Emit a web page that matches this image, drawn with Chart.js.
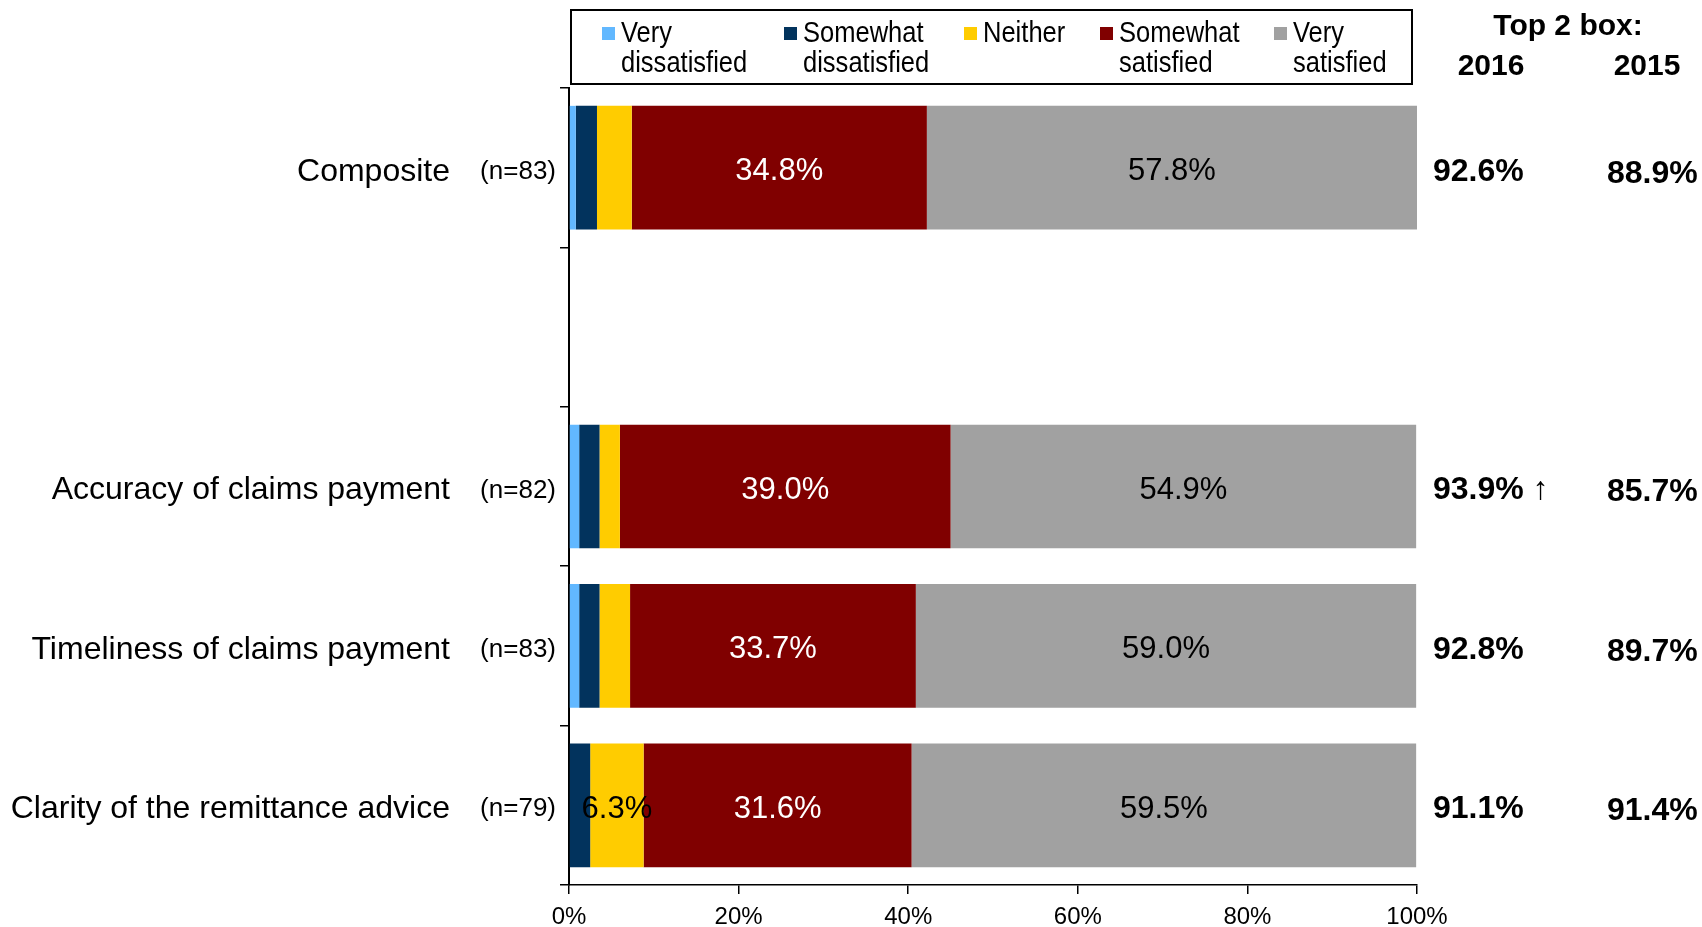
<!DOCTYPE html>
<html>
<head>
<meta charset="utf-8">
<title>Top 2 box satisfaction</title>
<script src="https://cdn.jsdelivr.net/npm/chart.js@4/dist/chart.umd.min.js"></script>
<style>
  html, body { margin: 0; padding: 0; background: #fff; }
  #chart { display: block; }
</style>
</head>
<body>
<canvas id="chart" width="1702" height="927"></canvas>
<script>
/* ---- data ---- */
var CATEGORIES   = ['Composite', '', 'Accuracy of claims payment', 'Timeliness of claims payment', 'Clarity of the remittance advice'];
var SAMPLE_SIZES = ['(n=83)', '', '(n=82)', '(n=83)', '(n=79)'];

var VERY_DISSATISFIED     = [0.8, null, 1.2, 1.2, 0];
var SOMEWHAT_DISSATISFIED = [2.5, null, 2.4, 2.4, 2.5];
var NEITHER               = [4.1, null, 2.4, 3.6, 6.3];
var SOMEWHAT_SATISFIED    = [34.8, null, 39.0, 33.7, 31.6];
var VERY_SATISFIED        = [57.8, null, 54.9, 59.0, 59.5];

var TOP2_2016 = ['92.6%', '', '93.9% \u2191', '92.8%', '91.1%'];
var TOP2_2015 = ['88.9%', '', '85.7%', '89.7%', '91.4%'];

var X_TICKS = [0, 20, 40, 60, 80, 100];

var LEGEND_LINES = [['Very', 'dissatisfied'], ['Somewhat', 'dissatisfied'], ['Neither'], ['Somewhat', 'satisfied'], ['Very', 'satisfied']];

var FONT = '"Liberation Sans", Arial, Helvetica, sans-serif';
var LABEL_MIN = 6;   // segments narrower than this get no value label

// layout constants for the hand-drawn pieces
var LEGEND_BOX   = { x: 571, y: 10, w: 841, h: 74 };
var LEGEND_ITEMS = [602, 784, 964, 1100, 1274];
var COL_2016_X   = 1433;
var COL_2015_X   = 1607;
var N_LABEL_X    = 556;
var TEXT_DY      = 4;   // labels sit a touch below the bar centre

var overlayPlugin = {
    id: 'overlay',
    afterDatasetsDraw: function(chart) {
        var ctx = chart.ctx;
        chart.data.datasets.forEach(function(ds, di) {
            var meta = chart.getDatasetMeta(di);
            meta.data.forEach(function(bar, i) {
                var v = ds.data[i];
                if (v === null || v < LABEL_MIN) return;
                ctx.save();
                ctx.font = '31px ' + FONT;
                ctx.fillStyle = ds.labelColor;
                ctx.textAlign = 'center';
                ctx.textBaseline = 'middle';
                ctx.fillText(v.toFixed(1) + '%', (bar.x + bar.base) / 2, bar.y + TEXT_DY);
                ctx.restore();
            });
        });
    },
    afterDraw: function(chart) {
        var ctx = chart.ctx;
        var yScale = chart.scales.y;

        // legend box
        ctx.save();
        ctx.strokeStyle = '#000';
        ctx.lineWidth = 2;
        ctx.strokeRect(LEGEND_BOX.x, LEGEND_BOX.y, LEGEND_BOX.w, LEGEND_BOX.h);
        chart.data.datasets.forEach(function(ds, di) {
            var x = LEGEND_ITEMS[di];
            ctx.fillStyle = ds.backgroundColor;
            ctx.fillRect(x, 27, 13, 13);
            ctx.fillStyle = '#000';
            ctx.font = '29px ' + FONT;
            ctx.textAlign = 'left';
            ctx.textBaseline = 'middle';
            LEGEND_LINES[di].forEach(function(line, li) {
                ctx.save();
                ctx.translate(x + 19, 34 + li * 30);
                ctx.scale(0.88, 1);
                ctx.fillText(line, 0, 0);
                ctx.restore();
            });
        });

        // right header
        ctx.fillStyle = '#000';
        ctx.font = 'bold 30px ' + FONT;
        ctx.textAlign = 'center';
        ctx.textBaseline = 'middle';
        ctx.fillText('Top 2 box:', 1568, 27);
        ctx.fillText('2016', 1491, 67);
        ctx.fillText('2015', 1647, 67);

        // per-row side labels
        CATEGORIES.forEach(function(c, i) {
            var y = yScale.getPixelForValue(i);
            ctx.font = 'bold 32px ' + FONT;
            ctx.textAlign = 'left';
            ctx.fillText(TOP2_2016[i], COL_2016_X, y + TEXT_DY);
            ctx.fillText(TOP2_2015[i], COL_2015_X, y + TEXT_DY + 2);
            ctx.font = '26px ' + FONT;
            ctx.textAlign = 'right';
            ctx.fillText(SAMPLE_SIZES[i], N_LABEL_X, y + TEXT_DY);
        });
        ctx.restore();
    }
};

function makeSet(label, data, color, labelColor) {
    return {
        label: label,
        data: data,
        backgroundColor: color,
        borderWidth: 0,
        labelColor: labelColor,
        barPercentage: 0.776,
        categoryPercentage: 1.0
    };
}

new Chart(document.getElementById('chart'), {
    type: 'bar',
    data: {
        labels: CATEGORIES,
        datasets: [
            makeSet('Very dissatisfied',     VERY_DISSATISFIED,     '#62B8FF', '#000'),
            makeSet('Somewhat dissatisfied', SOMEWHAT_DISSATISFIED, '#02335D', '#fff'),
            makeSet('Neither',               NEITHER,               '#FFCC00', '#000'),
            makeSet('Somewhat satisfied',    SOMEWHAT_SATISFIED,    '#800000', '#fff'),
            makeSet('Very satisfied',        VERY_SATISFIED,        '#A1A1A1', '#000')
        ]
    },
    options: {
        indexAxis: 'y',
        responsive: false,
        animation: false,
        layout: { padding: { top: 88, right: 285, bottom: 0, left: 0 } },
        plugins: {
            legend: { display: false },
            tooltip: { enabled: false }
        },
        scales: {
            x: {
                stacked: true,
                min: 0, max: 100,
                afterBuildTicks: function(scale) {
                    scale.ticks = X_TICKS.map(function(v) { return { value: v }; });
                },
                afterFit: function(scale) { scale.height = 42; },
                ticks: {
                    color: '#000',
                    padding: 9,
                    font: { family: FONT, size: 24 },
                    callback: function(v) { return v + '%'; }
                },
                grid: { drawOnChartArea: false, tickLength: 9, color: '#000', lineWidth: 1.5 },
                border: { color: '#000', width: 1.5 }
            },
            y: {
                stacked: true,
                afterFit: function(scale) {
                    scale.width = 569;
                    scale.paddingTop = 0;
                    scale.paddingBottom = 0;
                },
                ticks: {
                    color: '#000',
                    padding: 110,
                    labelOffset: 4,
                    font: { family: FONT, size: 32 }
                },
                grid: { drawOnChartArea: false, tickLength: 9, color: '#000', lineWidth: 1.5 },
                border: { color: '#000', width: 2 }
            }
        }
    },
    plugins: [overlayPlugin]
});
</script>
</body>
</html>
